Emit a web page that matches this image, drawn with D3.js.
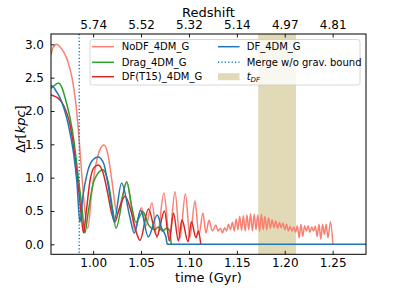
<!DOCTYPE html>
<html><head><meta charset="utf-8">
<script src="https://cdn.jsdelivr.net/npm/d3@7"></script>
<style>body{margin:0;background:#fff}text{font-family:"DejaVu Sans",sans-serif;fill:#000}</style>
</head><body><svg id="c" width="407" height="291"></svg>
<script>
const timeTicks=[1.00,1.05,1.10,1.15,1.20,1.25];
const redshiftLabels=["5.74","5.52","5.32","5.14","4.97","4.81"];
const yTicks=[0,0.5,1.0,1.5,2.0,2.5,3.0];
const mergeTime=0.9855;
const tdfBand=[1.1723,1.2117];

const noDF=[[0.956,2.84],[0.9581,2.95],[0.962,3.0],[0.9655,2.96],[0.9695,2.88],[0.9737,2.74],[0.9779,2.5],[0.981,2.22],[0.9841,1.8],[0.9873,1.2],[0.9904,0.65],[0.9943,0.24],[0.9987,0.8],[1.0029,1.2],[1.0071,1.42],[1.0113,1.49],[1.0154,1.35],[1.0196,0.95],[1.0238,0.52],[1.0259,0.47],[1.0301,0.7],[1.0353,0.93],[1.0395,0.6],[1.0436,0.2],[1.0504,0.55],[1.0551,0.28],[1.0614,0.62],[1.0666,0.1],[1.0739,0.77],[1.0796,0.1],[1.0854,0.79],[1.0906,0.09],[1.0963,0.76],[1.101,0.1],[1.1063,0.65],[1.1104,0.14],[1.1146,0.47],[1.1177,0.17],[1.1209,0.36],[1.1245,0.2],[1.1282,0.29],[1.1303,0.2],[1.1329,0.24],[1.135,0.17],[1.1371,0.25],[1.1392,0.2],[1.1412,0.3],[1.1433,0.22],[1.1454,0.33],[1.1473,0.2],[1.1493,0.38],[1.1511,0.22],[1.153,0.42],[1.1549,0.21],[1.1568,0.43],[1.1587,0.2],[1.1605,0.44],[1.1624,0.22],[1.1643,0.46],[1.1662,0.2],[1.1681,0.45],[1.17,0.22],[1.1718,0.44],[1.1737,0.2],[1.1756,0.45],[1.1775,0.22],[1.1793,0.42],[1.1812,0.22],[1.1831,0.4],[1.185,0.24],[1.1868,0.37],[1.1887,0.25],[1.1906,0.35],[1.1925,0.24],[1.1944,0.33],[1.1962,0.25],[1.1981,0.32],[1.2,0.22],[1.2019,0.3],[1.2038,0.2],[1.2056,0.27],[1.2075,0.2],[1.2094,0.26],[1.2113,0.18],[1.2132,0.28],[1.215,0.1],[1.2169,0.3],[1.2188,0.12],[1.2207,0.28],[1.2226,0.2],[1.2244,0.28],[1.2263,0.18],[1.2282,0.26],[1.2301,0.2],[1.2319,0.27],[1.2338,0.12],[1.2357,0.3],[1.2376,0.08],[1.2395,0.3],[1.2413,0.15],[1.2432,0.3],[1.2451,0.1],[1.2478,0.34],[1.2502,0.0]];
const drag=[[0.956,2.34],[0.9601,2.39],[0.9636,2.42],[0.9674,2.35],[0.9716,2.15],[0.9758,1.9],[0.98,1.55],[0.9841,1.05],[0.9883,0.55],[0.9914,0.17],[0.9945,0.45],[1.0008,0.95],[1.0102,1.12],[1.0154,0.95],[1.0207,0.5],[1.0238,0.24],[1.035,0.94],[1.0405,0.55],[1.0445,0.33],[1.052,0.49],[1.0575,0.3],[1.0645,0.22],[1.068,0.26],[1.0725,0.2],[1.0765,0.24],[1.0798,0.21],[1.0815,0.0]];
const dfT15=[[0.956,2.24],[0.9601,2.22],[0.9636,2.19],[0.9674,2.13],[0.9716,2.0],[0.9758,1.8],[0.98,1.42],[0.9841,0.92],[0.9873,0.48],[0.9899,0.17],[0.9925,0.45],[0.9967,0.95],[1.0008,1.15],[1.0053,1.19],[1.0102,1.08],[1.0154,0.75],[1.0196,0.45],[1.0228,0.34],[1.0269,0.52],[1.0332,0.72],[1.0395,0.5],[1.0447,0.2],[1.0489,0.06],[1.0577,0.53],[1.0666,0.12],[1.0744,0.5],[1.0796,0.05],[1.0838,0.47],[1.089,0.05],[1.0927,0.37],[1.099,0.04],[1.1026,0.34],[1.1073,0.1],[1.1099,0.2],[1.1123,0.0]];
const df=[[0.956,2.38],[0.9581,2.37],[0.9612,2.3],[0.9653,2.2],[0.9695,2.04],[0.9737,1.82],[0.9768,1.6],[0.9799,1.33],[0.9831,0.92],[0.9862,0.33],[0.9893,0.72],[0.9935,1.05],[0.9987,1.25],[1.0053,1.31],[1.0113,1.2],[1.0141,1.01],[1.0193,0.56],[1.0217,0.34],[1.0297,0.915],[1.0383,0.41],[1.0429,0.165],[1.0496,0.515],[1.0575,0.11],[1.0669,0.44],[1.0715,0.24],[1.076,0.11],[1.0774,0.0],[1.2848,0.0]];

const series=[
 {name:"NoDF_4DM_G",data:noDF,color:"#fa8072"},
 {name:"Drag_4DM_G",data:drag,color:"#2ca02c"},
 {name:"DF(T15)_4DM_G",data:dfT15,color:"#d62728"},
 {name:"DF_4DM_G",data:df,color:"#1f77b4"}
];

const L=51,R=366,T=34,B=254.3;
const svg=d3.select("#c");
const x=d3.scaleLinear().domain([0.956,1.2848]).range([L,R]);
const y=d3.scaleLinear().domain([-0.15,3.155]).range([B,T]);

svg.append("clipPath").attr("id","pc").append("rect").attr("x",L).attr("y",T).attr("width",R-L).attr("height",B-T);

svg.append("rect").attr("x",x(tdfBand[0])).attr("y",T).attr("width",x(tdfBand[1])-x(tdfBand[0])).attr("height",B-T).attr("fill","#e2dab6");

const line=d3.line().x(d=>x(d[0])).y(d=>y(d[1])).curve(d3.curveMonotoneX);
const g=svg.append("g").attr("clip-path","url(#pc)");
series.forEach(s=>{
 g.append("path").attr("d",line(s.data)).attr("fill","none").attr("stroke",s.color).attr("stroke-width",1.5).attr("stroke-linejoin","round");
});
g.append("line").attr("x1",x(mergeTime)).attr("x2",x(mergeTime)).attr("y1",T).attr("y2",B).attr("stroke","#1f77b4").attr("stroke-width",1.5).attr("stroke-dasharray","1.2,2.2");

const ax=svg.append("g").attr("transform",`translate(0,${B})`).call(d3.axisBottom(x).tickValues(timeTicks).tickFormat(d3.format(".2f")).tickSize(-3.5).tickPadding(4));
const at=svg.append("g").attr("transform",`translate(0,${T})`).call(d3.axisTop(x).tickValues(timeTicks).tickFormat((d,i)=>redshiftLabels[i]).tickSize(-3.5).tickPadding(5));
const al=svg.append("g").attr("transform",`translate(${L},0)`).call(d3.axisLeft(y).tickValues(yTicks).tickFormat(d3.format(".1f")).tickSize(-3.5).tickPadding(7));
[ax,at,al].forEach(a=>{a.select(".domain").remove();a.selectAll("text").style("font-size","12px").style("font-family","DejaVu Sans");a.selectAll("line").attr("stroke","#000").attr("stroke-width",0.9);});
svg.append("rect").attr("x",L).attr("y",T).attr("width",R-L).attr("height",B-T).attr("fill","none").attr("stroke","#000").attr("stroke-width",1);

svg.append("text").attr("x",(L+R)/2).attr("y",281.5).attr("text-anchor","middle").style("font-size","13px").text("time (Gyr)");
svg.append("text").attr("x",(L+R)/2).attr("y",16.5).attr("text-anchor","middle").style("font-size","13px").text("Redshift");
const yl=svg.append("text").attr("transform","translate(25,129) rotate(-90)").attr("text-anchor","middle").style("font-size","13px");
yl.append("tspan").text("Δ");yl.append("tspan").style("font-style","italic").text("r");yl.append("tspan").text("[");yl.append("tspan").style("font-style","italic").text("kpc");yl.append("tspan").text("]");

const lg=svg.append("g");
lg.append("rect").attr("x",90).attr("y",39.5).attr("width",270).attr("height",45.5).attr("rx",2.5).attr("fill","#fff").attr("fill-opacity",0.8).attr("stroke","#ccc").attr("stroke-width",0.8);
const rows=[46.7,62.3,76.7];
const cols=[{x1:92,x2:114,tx:121.7},{x1:218,x2:239.5,tx:246.7}];
const entries=[
 {label:"NoDF_4DM_G",type:"line",color:"#fa8072",c:0,r:0},
 {label:"Drag_4DM_G",type:"line",color:"#2ca02c",c:0,r:1},
 {label:"DF(T15)_4DM_G",type:"line",color:"#d62728",c:0,r:2},
 {label:"DF_4DM_G",type:"line",color:"#1f77b4",c:1,r:0},
 {label:"Merge w/o grav. bound",type:"dot",color:"#1f77b4",c:1,r:1},
 {label:"tdf",type:"patch",color:"#e2dab6",c:1,r:2}
];
entries.forEach(e=>{
 const c=cols[e.c],yy=rows[e.r];
 if(e.type==="patch"){
  lg.append("rect").attr("x",c.x1).attr("y",yy-3.5).attr("width",c.x2-c.x1).attr("height",7).attr("fill",e.color);
  const t=lg.append("text").attr("x",c.tx).attr("y",yy+3.6).style("font-size","10px");
  t.append("tspan").style("font-style","italic").text("t");
  t.append("tspan").style("font-style","italic").style("font-size","7px").attr("dy",2).text("DF");
 } else {
  lg.append("line").attr("x1",c.x1).attr("x2",c.x2).attr("y1",yy).attr("y2",yy).attr("stroke",e.color).attr("stroke-width",1.5).attr("stroke-dasharray",e.type==="dot"?"1.2,2.2":null);
  lg.append("text").attr("x",c.tx).attr("y",yy+3.6).style("font-size","10px").text(e.label);
 }
});
</script></body></html>
